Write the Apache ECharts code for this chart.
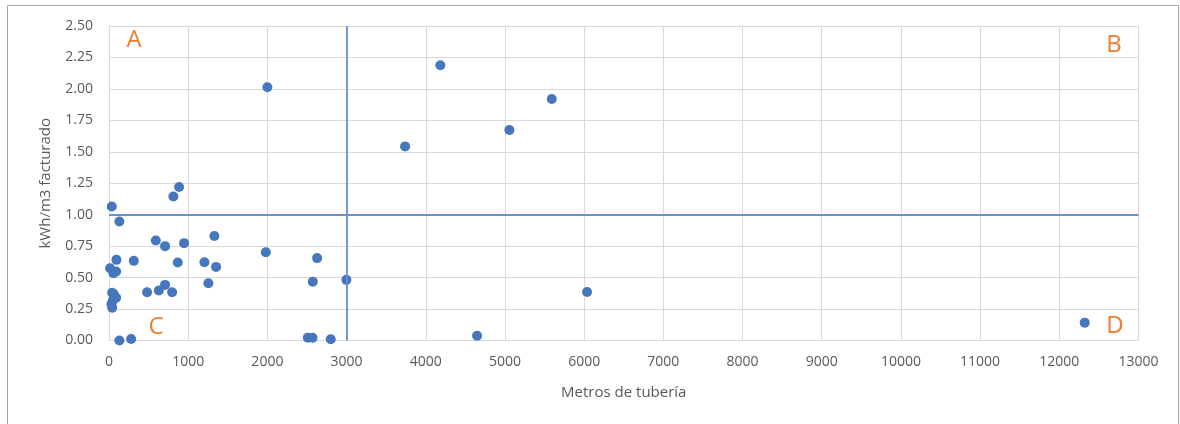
<!DOCTYPE html>
<html>
<head>
<meta charset="utf-8">
<script src="https://cdn.jsdelivr.net/npm/echarts@6/dist/echarts.min.js"></script>
<style>
html,body{margin:0;padding:0;background:#fff;}
#c{width:1180px;height:424px;}
</style>
</head>
<body>
<div id="c"></div>
<script>
// Data
var metros = [885, 813, 35, 131, 591, 708, 948, 1331, 1980, 2628, 94, 313, 868, 1205, 1352,
  14, 56, 90, 2573, 1255, 481, 629, 708, 797, 40, 60, 90, 50, 30, 40,
  131, 279, 2510, 2570, 2800, 2000, 4184, 5591, 5056, 3739, 2998, 6037, 4648, 12321];
var kwh = [1.22, 1.145, 1.065, 0.946, 0.795, 0.750, 0.774, 0.830, 0.702, 0.655, 0.641, 0.633, 0.620, 0.622, 0.585,
  0.575, 0.535, 0.548, 0.468, 0.455, 0.384, 0.397, 0.442, 0.384, 0.38, 0.37, 0.34, 0.32, 0.29, 0.26,
  0.0, 0.012, 0.022, 0.022, 0.01, 2.013, 2.188, 1.92, 1.673, 1.543, 0.482, 0.386, 0.038, 0.142];
var xTicks = [0, 1000, 2000, 3000, 4000, 5000, 6000, 7000, 8000, 9000, 10000, 11000, 12000, 13000];
var yTicks = [0, 0.25, 0.5, 0.75, 1.0, 1.25, 1.5, 1.75, 2.0, 2.25, 2.5];
var umbralX = 3000;
var umbralY = 1.0;
var cuadrantes = ['A', 'B', 'C', 'D'];

var points = metros.map(function (m, i) { return [m, kwh[i]]; });

var chart = echarts.init(document.getElementById('c'));
var font = 'Open Sans';
var txt = '#595959';
var quadPos = [[134, 40], [1114, 45], [156, 327], [1115, 326]];

chart.setOption({
  animation: false,
  backgroundColor: '#fff',
  grid: { left: 109, right: 41.5, top: 26, bottom: 83.5, containLabel: false },
  xAxis: {
    type: 'value',
    min: xTicks[0], max: xTicks[xTicks.length - 1], interval: 1000,
    name: 'Metros de tubería', nameLocation: 'middle', nameGap: 45,
    nameTextStyle: { fontFamily: font, fontSize: 15, color: txt },
    axisLine: { show: true, lineStyle: { color: '#d9d9d9', width: 1 } },
    axisTick: { show: false },
    axisLabel: { fontFamily: font, fontSize: 14, color: txt, margin: 15,
      formatter: function (v) { return String(v); } },
    splitLine: { show: true, lineStyle: { color: '#d9d9d9', width: 1 } }
  },
  yAxis: {
    type: 'value',
    min: yTicks[0], max: yTicks[yTicks.length - 1], interval: 0.25,
    name: 'kWh/m3 facturado', nameLocation: 'middle', nameGap: 56, nameRotate: 90,
    nameTextStyle: { fontFamily: font, fontSize: 15, color: txt },
    axisLine: { show: true, lineStyle: { color: '#d9d9d9', width: 1 } },
    axisTick: { show: false },
    axisLabel: { fontFamily: font, fontSize: 14, color: txt, margin: 16,
      formatter: function (v) { return v.toFixed(2); } },
    splitLine: { show: true, lineStyle: { color: '#d9d9d9', width: 1 } }
  },
  series: [{
    type: 'scatter',
    data: points,
    symbol: 'circle',
    symbolSize: 10,
    itemStyle: { color: '#4677bd', opacity: 1 },
    markLine: {
      silent: true,
      symbol: 'none',
      label: { show: false },
      lineStyle: { color: '#6a8fca', width: 1.8, type: 'solid' },
      data: [{ xAxis: umbralX }, { yAxis: umbralY }]
    }
  }],
  graphic: [
    { type: 'rect', shape: { x: 7.5, y: 5.5, width: 1171, height: 440 },
      style: { fill: 'none', stroke: '#a6a6a6', lineWidth: 1 }, silent: true, z: -1 }
  ].concat(cuadrantes.map(function (l, i) {
    return { type: 'text', x: quadPos[i][0], y: quadPos[i][1],
      style: { text: l, fontFamily: font, fontSize: 24, fill: '#ed7d31',
        textAlign: 'center', textVerticalAlign: 'middle' } };
  }))
});
</script>
</body>
</html>
